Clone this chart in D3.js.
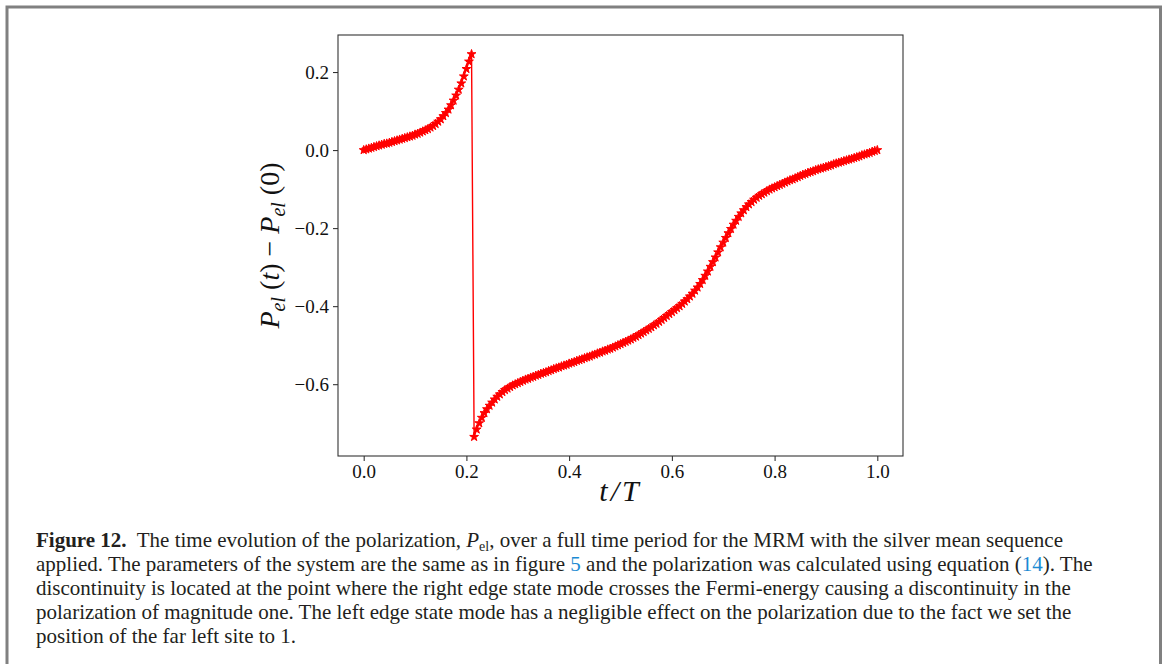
<!DOCTYPE html>
<html>
<head>
<meta charset="utf-8">
<script src="https://cdn.jsdelivr.net/npm/d3@7"></script>
<style>
  body { margin: 0; background: #fff; }
  svg { display: block; }
</style>
</head>
<body>
<div id="chart"></div>
<script>
// sample times t/T, one sample every 0.005 of the period
const steps = 200;
const tValues = d3.range(steps + 1).map(i => i / steps);

// P_el(t) - P_el(0) (one value per sample)
const polValues = [
  // t = 0.000 .. 0.210 (before the jump)
  0.000, 0.002, 0.004, 0.006, 0.008, 0.010, 0.012, 0.014, 0.016, 0.017,
  0.019, 0.021, 0.023, 0.025, 0.027, 0.029, 0.031, 0.033, 0.035, 0.037,
  0.040, 0.042, 0.045, 0.048, 0.051, 0.054, 0.058, 0.062, 0.067, 0.073,
  0.079, 0.087, 0.095, 0.104, 0.115, 0.127, 0.140, 0.155, 0.171, 0.189,
  0.208, 0.227, 0.246,
  // t = 0.215 .. 0.595 (after the jump)
  -0.735, -0.716, -0.700, -0.686, -0.674, -0.664, -0.655, -0.647, -0.639, -0.632,
  -0.626, -0.620, -0.615, -0.611, -0.607, -0.603, -0.600, -0.597, -0.594, -0.591,
  -0.588, -0.586, -0.583, -0.581, -0.578, -0.576, -0.573, -0.571, -0.569, -0.566,
  -0.564, -0.561, -0.559, -0.557, -0.554, -0.552, -0.550, -0.547, -0.545, -0.543,
  -0.540, -0.538, -0.536, -0.533, -0.531, -0.529, -0.526, -0.524, -0.521, -0.519,
  -0.516, -0.514, -0.511, -0.509, -0.506, -0.503, -0.500, -0.497, -0.494, -0.491,
  -0.488, -0.485, -0.481, -0.478, -0.474, -0.470, -0.466, -0.462, -0.458, -0.454,
  -0.449, -0.445, -0.440, -0.435, -0.430, -0.425, -0.420,
  // t = 0.600 .. 1.000
  -0.415, -0.410, -0.405, -0.400, -0.394, -0.388, -0.382, -0.375, -0.368, -0.360,
  -0.352, -0.343, -0.333, -0.322, -0.311, -0.299, -0.287, -0.275, -0.262, -0.249,
  -0.237, -0.225, -0.213, -0.202, -0.191, -0.181, -0.171, -0.162, -0.154, -0.146,
  -0.139, -0.133, -0.127, -0.122, -0.117, -0.113, -0.109, -0.105, -0.101, -0.098,
  -0.095, -0.092, -0.089, -0.086, -0.083, -0.080, -0.077, -0.075, -0.072, -0.069,
  -0.066, -0.063, -0.061, -0.058, -0.056, -0.054, -0.051, -0.049, -0.047, -0.045,
  -0.043, -0.041, -0.039, -0.036, -0.034, -0.032, -0.030, -0.028, -0.026, -0.024,
  -0.022, -0.020, -0.018, -0.016, -0.013, -0.011, -0.009, -0.007, -0.004, -0.002,
  0.000
];

// tick values
const xTicks = [0.0, 0.2, 0.4, 0.6, 0.8, 1.0];
const yTicks = [-0.6, -0.4, -0.2, 0.0, 0.2];

// caption, one array of [text, style] pieces per line
const captionLines = [
  [["Figure 12.", "b"], ["  The time evolution of the polarization, ", ""], ["P", "i"], ["el", "sub"],
   [", over a full time period for the MRM with the silver mean sequence", ""]],
  [["applied. The parameters of the system are the same as in figure ", ""], ["5", "link"],
   [" and the polarization was calculated using equation (", ""], ["14", "link"], ["). The", ""]],
  [["discontinuity is located at the point where the right edge state mode crosses the Fermi-energy causing a discontinuity in the", ""]],
  [["polarization of magnitude one. The left edge state mode has a negligible effect on the polarization due to the fact we set the", ""]],
  [["position of the far left site to 1.", ""]]
];

// y label pieces: P_el (t) − P_el (0)
const yLabelParts = [
  ["P", "i"], ["el", "isub"], [" (", ""], ["t", "i"], [") \u2212 ", ""],
  ["P", "i"], ["el", "isub"], [" (0)", ""]
];

const width = 1165;
const height = 664;

const svg = d3
  .select("#chart")
  .append("svg")
  .attr("width", width)
  .attr("height", height);

svg.append("rect").attr("width", width).attr("height", height).attr("fill", "#fff");

// grey page frame (left, top, right)
const frameColor = "#808080";
svg.append("path")
  .attr("d", "M7,664 V7 H1160.5 V664")
  .attr("fill", "none")
  .attr("stroke", frameColor)
  .attr("stroke-width", 3);

// plot area
const plot = { left: 338, right: 903, top: 35, bottom: 456 };

const x = d3.scaleLinear().domain([-0.05, 1.05]).range([plot.left, plot.right]);
const y = d3.scaleLinear().domain([-0.784, 0.295]).range([plot.bottom, plot.top]);

const fmt = d => d3.format(".1f")(d).replace("-", "\u2212").replace("\u22120.0", "0.0");

const xAxis = d3.axisBottom(x).tickValues(xTicks).tickFormat(fmt).tickSize(5).tickPadding(4);
const yAxis = d3.axisLeft(y).tickValues(yTicks).tickFormat(fmt).tickSize(5).tickPadding(4);

const xAxisGroup = svg.append("g")
  .attr("transform", `translate(0, ${plot.bottom})`)
  .call(xAxis);
const yAxisGroup = svg.append("g")
  .attr("transform", `translate(${plot.left}, 0)`)
  .call(yAxis);

[xAxisGroup, yAxisGroup].forEach(g => {
  g.select(".domain").remove();
  g.selectAll(".tick line").attr("stroke", "#222").attr("stroke-width", 1);
  g.selectAll(".tick text")
    .attr("fill", "#111")
    .style("font-family", "'Liberation Serif', serif")
    .style("font-size", "19px");
});

// axes box
svg.append("rect")
  .attr("x", plot.left)
  .attr("y", plot.top)
  .attr("width", plot.right - plot.left)
  .attr("height", plot.bottom - plot.top)
  .attr("fill", "none")
  .attr("stroke", "#333")
  .attr("stroke-width", 1.1);

// the data
const points = tValues.map((t, i) => ({ t, v: polValues[i] }));
const red = "#ff0000";

const line = d3.line().x(d => x(d.t)).y(d => y(d.v));

svg.append("path")
  .datum(points)
  .attr("d", line)
  .attr("fill", "none")
  .attr("stroke", red)
  .attr("stroke-width", 1.4);

const star = d3.symbol().type(d3.symbolStar).size(24);

svg.append("g")
  .selectAll("path")
  .data(points)
  .enter()
  .append("path")
  .attr("d", star)
  .attr("transform", d => `translate(${x(d.t)}, ${y(d.v)})`)
  .attr("fill", red)
  .attr("stroke", red)
  .attr("stroke-width", 1);

// x label
svg.append("text")
  .attr("x", (plot.left + plot.right) / 2)
  .attr("y", 501)
  .attr("text-anchor", "middle")
  .style("font-family", "'Liberation Serif', serif")
  .style("font-style", "italic")
  .style("font-size", "30px")
  .style("letter-spacing", "3px")
  .attr("fill", "#111")
  .text("t/T");

// y label, rotated
const yLabel = svg.append("text")
  .attr("transform", `translate(279, ${(plot.top + plot.bottom) / 2}) rotate(-90)`)
  .attr("text-anchor", "middle")
  .style("font-family", "'Liberation Serif', serif")
  .style("font-size", "28px")
  .style("white-space", "pre")
  .attr("fill", "#111");

let shift = 0;
yLabelParts.forEach(([txt, style]) => {
  const ts = yLabel.append("tspan").text(txt);
  const target = style === "isub" ? 6 : 0;
  if (target !== shift) {
    ts.attr("dy", target - shift);
    shift = target;
  }
  if (style === "i" || style === "isub") ts.style("font-style", "italic");
  if (style === "isub") ts.style("font-size", "20px");
});

// caption
const caption = svg.append("g")
  .style("font-family", "'Liberation Serif', serif")
  .style("font-size", "21px")
  .attr("fill", "#231f20");

captionLines.forEach((parts, li) => {
  const txt = caption.append("text")
    .attr("x", 36)
    .attr("y", 547 + li * 24)
    .style("white-space", "pre");
  let sh = 0;
  parts.forEach(([s, style]) => {
    const ts = txt.append("tspan").text(s);
    const target = style === "sub" ? 4 : 0;
    if (target !== sh) {
      ts.attr("dy", target - sh);
      sh = target;
    }
    if (style === "b") ts.style("font-weight", "bold");
    if (style === "i") ts.style("font-style", "italic");
    if (style === "sub") ts.style("font-size", "14px");
    if (style === "link") ts.attr("fill", "#1b8ad3");
  });
});
</script>
</body>
</html>
